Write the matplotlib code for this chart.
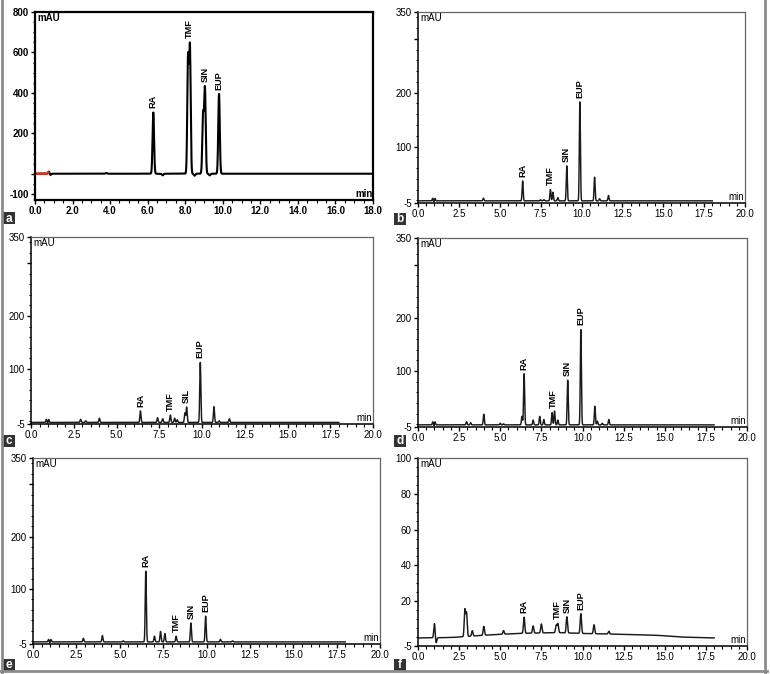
"""HPLC chromatograms a-f: standard mix and extracts (RA, TMF, SIN, EUP)."""
import numpy as np
import matplotlib.pyplot as plt
from matplotlib.lines import Line2D
from matplotlib.patches import Rectangle
from matplotlib.ticker import FormatStrFormatter, MultipleLocator

plt.rcParams["font.family"] = ["Liberation Sans", "DejaVu Sans"]

W, H = 770, 674

# ---- data: retention time (min), apex height above baseline (mAU)
# a: standard mixture
A_RT = [0.75, 0.8, 3.8, 6.3, 6.8, 8.15, 8.25, 8.5, 8.95, 9.05, 9.3, 9.8]
A_H = [14, -10, 4, 303, -8, 570, 620, -10, 290, 420, -8, 395]
A_NAME = ["RA", "TMF", "SIN", "EUP"]
A_NAME_RT = [6.3, 8.2, 9.05, 9.8]
A_BASE = 0.0

# b
B_RT = [0.9, 0.97, 1.03, 4.0, 6.4, 7.5, 7.7, 8.1, 8.25, 8.55, 9.1, 9.9, 10.8, 11.1, 11.65]
B_H = [5, -3, 5, 5, 37, 2, 2, 21, 16, 6, 65, 184, 44, 4, 10]
B_NAME = ["RA", "TMF", "SIN", "EUP"]
B_NAME_RT = [6.4, 8.1, 9.1, 9.9]
B_BASE = -1.0

# c
C_RT = [0.9, 0.97, 1.03, 2.9, 3.2, 4.0, 6.4, 7.4, 7.7, 8.15, 8.4, 8.55, 9.0, 9.1,
        9.9, 10.7, 11.0, 11.6]
C_H = [6, -3, 6, 6, 3, 8, 22, 9, 7, 14, 8, 5, 18, 29, 114, 30, 3, 7]
C_NAME = ["RA", "TMF", "SIL", "EUP"]
C_NAME_RT = [6.4, 8.15, 9.1, 9.9]
C_BASE = -2.0

# d
D_RT = [0.9, 0.97, 1.03, 2.95, 3.2, 4.0, 5.0, 5.2, 6.32, 6.45, 7.0, 7.4, 7.65, 8.15,
        8.3, 8.5, 9.1, 9.9, 10.75, 10.9, 11.2, 11.6]
D_H = [6, -3, 6, 6, 4, 20, 3, 2, 16, 96, 9, 16, 10, 23, 26, 9, 84, 179, 35, 7, 3, 10]
D_NAME = ["RA", "TMF", "SIN", "EUP"]
D_NAME_RT = [6.45, 8.2, 9.1, 9.9]
D_BASE = -1.0

# e
E_RT = [0.9, 0.97, 1.03, 2.9, 4.0, 5.2, 6.5, 7.0, 7.35, 7.6, 8.25, 9.1, 9.95, 10.8, 11.5]
E_H = [5, -3, 5, 7, 12, 2, 135, 11, 20, 16, 11, 36, 49, 5, 2]
E_NAME = ["RA", "TMF", "SIN", "EUP"]
E_NAME_RT = [6.5, 8.25, 9.1, 9.95]
E_BASE = -1.0

# f: drifting baseline
F_RT = [1.0, 1.1, 2.85, 2.95, 3.3, 4.0, 5.2, 6.45, 7.0, 7.5, 8.4, 8.5, 9.05, 9.9, 10.7, 11.6]
F_H = [8, -3, 15, 13, 3, 5, 2, 9, 4, 5, 4, 5, 9, 11, 5, 1.5]
F_BASE_T = [0.0, 2.0, 4.0, 6.0, 8.5, 10.0, 12.5, 14.5, 16.0, 18.0]
F_BASE_V = [-0.5, -0.3, 1.0, 2.0, 2.5, 2.0, 1.5, 1.0, 0.0, -0.5]
F_NAME = ["RA", "TMF", "SIN", "EUP"]
F_NAME_RT = [6.45, 8.45, 9.05, 9.9]


def fig_box(left, top, right, bottom):
    return [left / W, 1 - bottom / H, (right - left) / W, (bottom - top) / H]


def trace(t, base, rt, h, sigma):
    y = np.zeros_like(t) + base
    for r, hh in zip(rt, h):
        y += hh * np.exp(-0.5 * ((t - r) / sigma) ** 2)
    return y


def setup(ax, xmax, xstep, ylim, yticks, ylabels, yminor, heavy=False):
    ax.set_xlim(0, xmax)
    ax.set_ylim(*ylim)
    ax.xaxis.set_major_locator(MultipleLocator(xstep))
    ax.xaxis.set_minor_locator(MultipleLocator(0.5))
    ax.xaxis.set_major_formatter(FormatStrFormatter("%.1f"))
    ax.set_yticks(yticks)
    ax.set_yticklabels(ylabels)
    ax.yaxis.set_minor_locator(MultipleLocator(yminor))
    fw = "bold" if heavy else "normal"
    for s in ["left", "bottom"]:
        ax.spines[s].set_linewidth(1.6 if heavy else 1.1)
        ax.spines[s].set_color("black")
    for s in ["top", "right"]:
        ax.spines[s].set_linewidth(1.6 if heavy else 0.9)
        ax.spines[s].set_color("black" if heavy else "#666666")
    ax.tick_params(which="major", direction="out", length=3, width=1.0, labelsize=7, pad=1.5)
    ax.tick_params(which="minor", direction="out", length=1.8, width=0.8)
    for lab in ax.get_xticklabels() + ax.get_yticklabels():
        lab.set_fontweight(fw)
    ax.text(0.006, 0.995, "mAU", transform=ax.transAxes, ha="left", va="top",
            fontsize=7, fontweight=fw)
    ax.text(0.998, 0.004, "min", transform=ax.transAxes, ha="right", va="bottom",
            fontsize=7, fontweight=fw)


def names(ax, t, y, name_rt, name_list, fw="bold"):
    for r, n in zip(name_rt, name_list):
        m = (t > r - 0.08) & (t < r + 0.08)
        top = y[m].max()
        ax.annotate(n, (r, top), xytext=(0, 3), textcoords="offset points", rotation=90,
                    ha="center", va="bottom", fontsize=6.6, fontweight=fw)


def panel_tag(fig, left, top, letter):
    fig.add_artist(Rectangle((left / W, 1 - (top + 12) / H), 12 / W, 12 / H,
                             transform=fig.transFigure, facecolor="#333333", edgecolor="none"))
    fig.text((left + 6) / W, 1 - (top + 6.5) / H, letter, ha="center", va="center",
             color="white", fontsize=8.5, fontweight="bold")


fig = plt.figure(figsize=(W / 100, H / 100), dpi=100)
fig.patch.set_facecolor("white")

t18 = np.linspace(0, 18, 6000)

# a
ax = fig.add_axes(fig_box(35, 12, 373, 200))
ya = trace(t18, A_BASE, A_RT, A_H, 0.04)
ax.plot(t18, ya, color="black", lw=1.5)
seg = t18 < 0.7
ax.plot(t18[seg], ya[seg], color="#e03020", lw=1.8)
setup(ax, 18, 2, (-130, 800), [-100, 0, 200, 400, 600, 800],
      ["-100", "", "200", "400", "600", "800"], 50, heavy=True)
names(ax, t18, ya, A_NAME_RT, A_NAME)

panels = [
    ("b", (418, 12, 745, 203), B_BASE, B_RT, B_H, B_NAME_RT, B_NAME),
    ("c", (31, 237, 373, 424), C_BASE, C_RT, C_H, C_NAME_RT, C_NAME),
    ("d", (418, 238, 747, 427), D_BASE, D_RT, D_H, D_NAME_RT, D_NAME),
    ("e", (33, 458, 380, 644), E_BASE, E_RT, E_H, E_NAME_RT, E_NAME),
]
for key, box, base, rt, h, nrt, nm in panels:
    ax = fig.add_axes(fig_box(*box))
    y = trace(t18, base, rt, h, 0.032)
    ax.plot(t18, y, color="#1a1a1a", lw=1.05)
    setup(ax, 20, 2.5, (-5, 350), [-5, 100, 200, 300, 350],
          ["-5", "100", "200", "", "350"], 20)
    names(ax, t18, y, nrt, nm)

# f
ax = fig.add_axes(fig_box(418, 458, 747, 646))
yf = trace(t18, np.interp(t18, F_BASE_T, F_BASE_V), F_RT, F_H, 0.04)
ax.plot(t18, yf, color="#1a1a1a", lw=1.05)
setup(ax, 20, 2.5, (-5, 100), [-5, 20, 40, 60, 80, 100],
      ["-5", "20", "40", "60", "80", "100"], 5)
names(ax, t18, yf, F_NAME_RT, F_NAME)

for letter, (lx, ly) in zip("abcdef", [(3, 212), (394, 213), (3, 435), (394, 435),
                                       (3, 659), (394, 659)]):
    panel_tag(fig, lx, ly, letter)

# outer grey frame
fc = "#8c8c8c"
fig.add_artist(Line2D([2 / W, 2 / W], [0, 1], color=fc, lw=2, transform=fig.transFigure))
fig.add_artist(Line2D([765 / W, 765 / W], [0, 1], color=fc, lw=2, transform=fig.transFigure))
fig.add_artist(Line2D([0, 767 / W], [3 / H, 3 / H], color=fc, lw=2, transform=fig.transFigure))

fig.savefig("out.png", dpi=100, facecolor="white")
